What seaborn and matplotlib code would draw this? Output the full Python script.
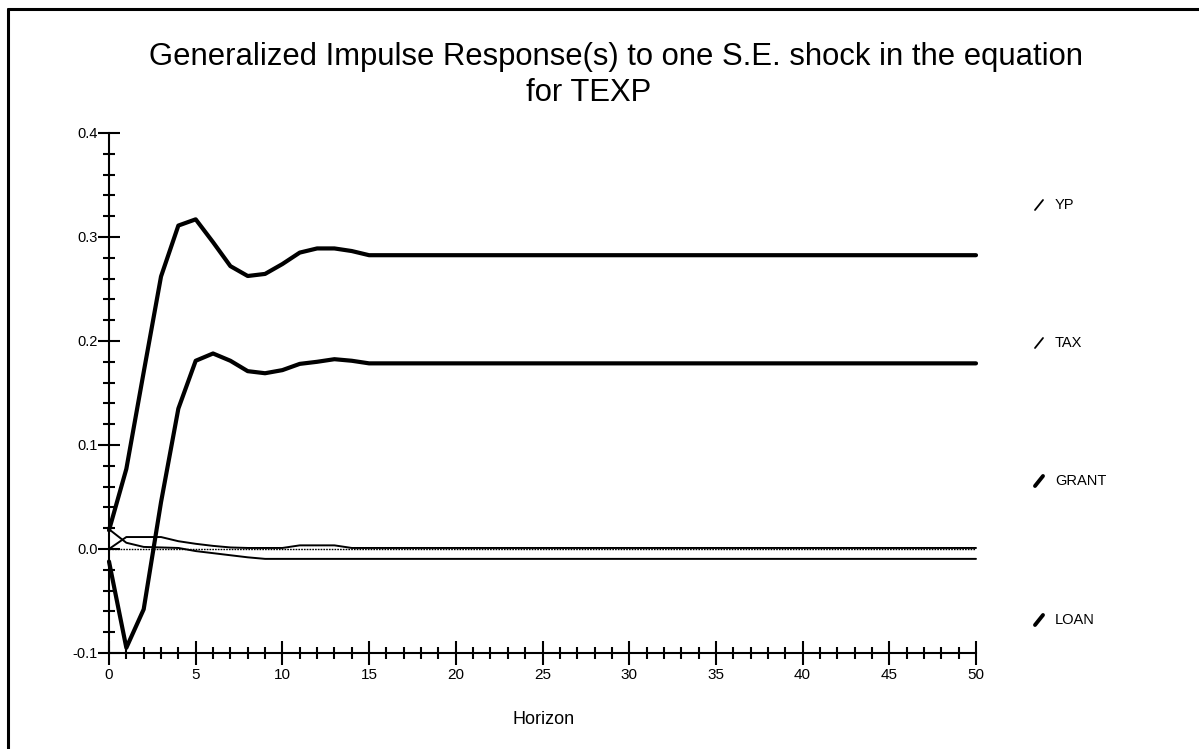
import matplotlib
matplotlib.use("Agg")
import matplotlib.pyplot as plt
from matplotlib.lines import Line2D
from matplotlib.ticker import MultipleLocator, FixedLocator, FixedFormatter
import pandas as pd
import seaborn as sns

# Impulse responses by horizon
horizon = list(range(51))
yp = [0.018, 0.077, 0.170, 0.262, 0.311, 0.317, 0.295, 0.272, 0.2625, 0.2645,
      0.274, 0.285, 0.289, 0.289, 0.2865] + [0.2825] * 36
tax = [-0.012, -0.095, -0.058, 0.045, 0.135, 0.181, 0.188, 0.181, 0.171, 0.169,
       0.172, 0.178, 0.180, 0.1825, 0.181] + [0.1785] * 36
grant = [0.019, 0.006, 0.002, 0.0015, 0.001, -0.002, -0.004, -0.006, -0.008,
         -0.0095] + [-0.0095] * 41
loan = [0.0, 0.0115, 0.0115, 0.0115, 0.0075, 0.005, 0.003, 0.0015, 0.001, 0.001,
        0.001, 0.0035, 0.0035, 0.0035, 0.001] + [0.001] * 36

series_names = ["YP", "TAX", "GRANT", "LOAN"]
y_ticks = [-0.1, 0.0, 0.1, 0.2, 0.3, 0.4]
y_tick_labels = ["-0.1", "0.0", "0.1", "0.2", "0.3", "0.4"]
x_ticks = [0, 5, 10, 15, 20, 25, 30, 35, 40, 45, 50]

sns.set_style("white")
plt.rcParams["font.family"] = ["Liberation Sans", "DejaVu Sans"]
plt.rcParams["axes.unicode_minus"] = False
plt.rcParams["text.color"] = "black"
plt.rcParams["xtick.color"] = "black"
plt.rcParams["ytick.color"] = "black"
plt.rcParams["axes.labelcolor"] = "black"

df = pd.DataFrame({"Horizon": horizon, "YP": yp, "TAX": tax,
                   "GRANT": grant, "LOAN": loan})
long = df.melt(id_vars="Horizon", var_name="series", value_name="response")

W, H = 1199, 749
fig = plt.figure(figsize=(W / 100, H / 100), dpi=100)
ax = fig.add_axes([109 / W, 1 - 653 / H, (976 - 109) / W, (653 - 133) / H])

# zero reference line
ax.plot([0, 50], [0, 0], color="black", lw=1.0, ls=(0, (1.2, 0.8)), zorder=1)

widths = {"YP": 3.0, "TAX": 3.0, "GRANT": 1.4, "LOAN": 1.4}
for name in series_names:
    sub = long[long["series"] == name]
    sns.lineplot(data=sub, x="Horizon", y="response", ax=ax, color="black",
                 lw=widths[name], clip_on=False, zorder=3)

ax.set_xlim(0, 50)
ax.set_ylim(-0.1, 0.4)
for side in ["top", "right"]:
    ax.spines[side].set_visible(False)
for side in ["left", "bottom"]:
    ax.spines[side].set_linewidth(1.5)
    ax.spines[side].set_color("black")

ax.xaxis.set_major_locator(FixedLocator(x_ticks))
ax.xaxis.set_minor_locator(MultipleLocator(1))
ax.yaxis.set_major_locator(FixedLocator(y_ticks))
ax.yaxis.set_major_formatter(FixedFormatter(y_tick_labels))
ax.yaxis.set_minor_locator(MultipleLocator(0.02))

ax.tick_params(axis="x", which="major", direction="inout", length=17, width=1.5,
               labelsize=11, pad=2, colors="black", bottom=True)
ax.tick_params(axis="x", which="minor", direction="inout", length=9, width=1.5,
               bottom=True)
ax.tick_params(axis="y", which="major", direction="inout", length=16.5, width=1.5,
               labelsize=10.5, pad=0, colors="black", left=True)
ax.tick_params(axis="y", which="minor", direction="inout", length=8, width=1.5,
               left=True)
ax.set_xlabel("")
ax.set_ylabel("")

# titles and axis caption
fig.text(616 / W, 1 - 57 / H,
         "Generalized Impulse Response(s) to one S.E. shock in the equation",
         ha="center", va="center", fontsize=22.3)
fig.text(589 / W, 1 - 93 / H, "for TEXP", ha="center", va="center", fontsize=22.3)
fig.text(544 / W, 1 - 720 / H, "Horizon", ha="center", va="center", fontsize=13)

# key on the right
key_y = [205, 343, 481, 620]
key_w = [1.3, 1.3, 2.8, 2.8]
for name, ky, kw in zip(series_names, key_y, key_w):
    fig.add_artist(Line2D([1035 / W, 1043 / W], [1 - (ky + 5) / H, 1 - (ky - 5) / H],
                          transform=fig.transFigure, color="black", lw=kw,
                          solid_capstyle="round"))
    fig.text(1055 / W, 1 - ky / H, name, ha="left", va="center", fontsize=10.5)

# outer frame
fig.add_artist(Line2D([8 / W, 1.0], [1 - 9 / H, 1 - 9 / H],
                      transform=fig.transFigure, color="black", lw=2.2))
fig.add_artist(Line2D([8 / W, 8 / W], [1 - 9 / H, 0.0],
                      transform=fig.transFigure, color="black", lw=2.2))

fig.savefig("out.png", dpi=100)
